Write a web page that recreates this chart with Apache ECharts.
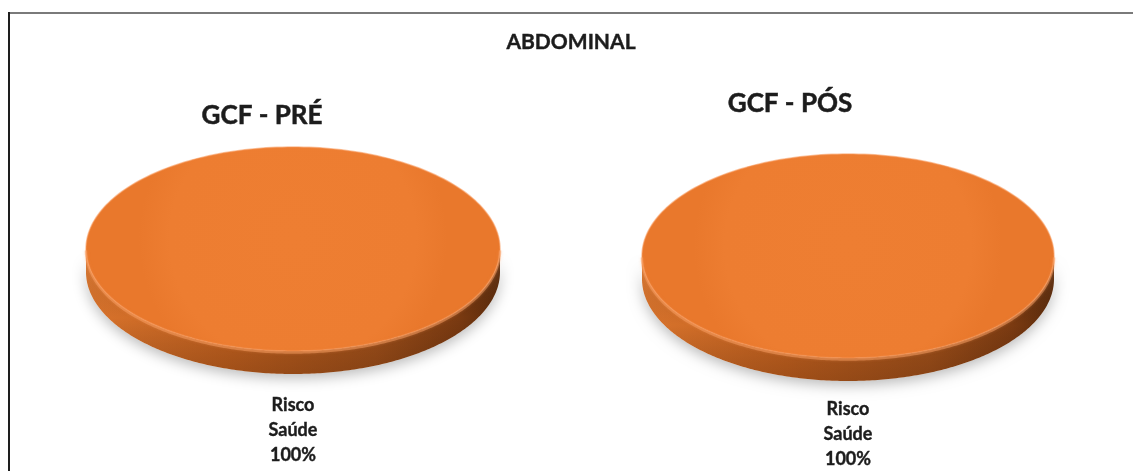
<!DOCTYPE html>
<html>
<head>
<meta charset="utf-8">
<script src="https://cdn.jsdelivr.net/npm/echarts@6/dist/echarts.min.js"></script>
<style>
  html, body { margin: 0; padding: 0; background: #ffffff; }
  #chart { width: 1133px; height: 471px; }
</style>
</head>
<body>
<div id="chart"></div>
<script>
// Categories and values for the two pies
const categories = ['Risco Saúde'];
const preValues = [100];
const posValues = [100];
const chartTitle = 'ABDOMINAL';
const pieTitles = ['GCF - PRÉ', 'GCF - PÓS'];

const FONT = 'Lato, "Open Sans", "Liberation Sans", sans-serif';
const ORANGE = '#ED7D31';
const INK = '#1c1c1c';

// Geometry of each tilted pie (center, radii, thickness) and its title
const layouts = [
  { cx: 293, cy: 249, rx: 207, ry: 102, depth: 23, titleX: 262, titleY: 116, labelY: 405 },
  { cx: 848, cy: 256, rx: 206, ry: 102, depth: 23, titleX: 790, titleY: 104, labelY: 409 }
];

function pct(v, total) {
  return Math.round(v / total * 100) + '%';
}

// Draws one slice of a tilted pie: shadow, side wall and top face, plus its label
function makeRenderer(values, L) {
  const total = values.reduce((a, b) => a + b, 0);
  return function (params, api) {
    const i = params.dataIndex;
    let before = 0;
    for (let k = 0; k < i; k++) before += values[k];
    const v = api.value(0);
    const frac = v / total;
    const a0 = -Math.PI / 2 + before / total * Math.PI * 2;
    const a1 = a0 + frac * Math.PI * 2;
    const pt = (a, dy) => [L.cx + L.rx * Math.cos(a), L.cy + L.ry * Math.sin(a) + dy];
    const N = 240;
    const full = frac >= 0.9999;

    // top face
    const top = [];
    if (!full) top.push([L.cx, L.cy]);
    for (let j = 0; j <= N; j++) top.push(pt(a0 + (a1 - a0) * j / N, 0));

    // visible front part of the side wall (angles in [0, PI])
    const s = Math.max(a0, 0), e = Math.min(a1, Math.PI);
    const side = [];
    const rim = [];
    if (e > s) {
      for (let j = 0; j <= N; j++) { const p = pt(s + (e - s) * j / N, 0); side.push(p); rim.push([p[0], p[1] + 1.5]); }
      for (let j = N; j >= 0; j--) side.push(pt(s + (e - s) * j / N, L.depth));
    }

    const children = [];
    if (side.length) {
      // soft shadow under the disc
      children.push({
        type: 'polygon',
        shape: { points: side },
        style: { fill: '#ffffff', shadowBlur: 14, shadowColor: 'rgba(0,0,0,0.28)', shadowOffsetY: 4 },
        silent: true
      });
      children.push({
        type: 'polygon',
        shape: { points: side },
        style: {
          fill: new echarts.graphic.LinearGradient(0, 0, 1, 0, [
            { offset: 0, color: '#D8732C' },
            { offset: 0.35, color: '#C2611F' },
            { offset: 0.7, color: '#A0501A' },
            { offset: 0.9, color: '#7A3A11' },
            { offset: 1, color: '#5A2A0B' }
          ])
        },
        silent: true
      });
      children.push({
        type: 'polygon',
        shape: { points: side },
        style: {
          fill: new echarts.graphic.LinearGradient(0, 0, 0, 1, [
            { offset: 0, color: 'rgba(255,190,140,0.18)' },
            { offset: 0.55, color: 'rgba(0,0,0,0)' },
            { offset: 1, color: 'rgba(40,15,0,0.22)' }
          ])
        },
        silent: true
      });
    }
    children.push({
      type: 'polygon',
      shape: { points: top },
      style: {
        fill: new echarts.graphic.RadialGradient(0.5, 0.45, 0.75, [
          { offset: 0, color: '#EE7E32' },
          { offset: 0.8, color: ORANGE },
          { offset: 1, color: '#E9782C' }
        ]),
        stroke: 'rgba(248,150,85,0.55)',
        lineWidth: 1.5
      }
    });
    if (rim.length) {
      children.push({
        type: 'polyline',
        shape: { points: rim },
        style: { stroke: 'rgba(250,160,100,0.5)', lineWidth: 2.5, fill: null, shadowBlur: 3, shadowColor: 'rgba(250,160,100,0.5)' },
        silent: true
      });
    }

    // data label: category name and percentage, below the slice
    const mid = (a0 + a1) / 2;
    const lx = full ? L.cx : L.cx + L.rx * 0.6 * Math.cos(mid);
    const ly = full ? L.labelY : L.cy + L.ry * 0.6 * Math.sin(mid);
    const lines = categories[i].split(' ').concat([pct(v, total)]);
    lines.forEach((t, k) => {
      children.push({
        type: 'text',
        x: lx,
        y: ly + k * 25,
        style: {
          text: t,
          align: 'center',
          verticalAlign: 'middle',
          font: 'bold 18px ' + FONT,
          fill: INK,
          stroke: INK,
          lineWidth: 0.4
        },
        silent: true
      });
    });

    return { type: 'group', children };
  };
}

const chart = echarts.init(document.getElementById('chart'), null, { renderer: 'canvas' });

const graphics = [
  // frame lines
  { type: 'line', shape: { x1: 8, y1: 13, x2: 1133, y2: 13 }, style: { stroke: '#7a7a7a', lineWidth: 2 } },
  { type: 'line', shape: { x1: 9, y1: 12, x2: 9, y2: 471 }, style: { stroke: '#1e1e1e', lineWidth: 2 } },
  {
    type: 'text', x: 571, y: 42,
    style: { text: chartTitle, align: 'center', verticalAlign: 'middle', font: 'bold 21px ' + FONT, fill: INK, stroke: INK, lineWidth: 0.4 }
  }
];
pieTitles.forEach((t, k) => {
  graphics.push({
    type: 'text', x: layouts[k].titleX, y: layouts[k].titleY,
    style: { text: t, align: 'center', verticalAlign: 'middle', font: 'bold 26px ' + FONT, fill: INK, stroke: INK, lineWidth: 0.5 }
  });
});

chart.setOption({
  backgroundColor: '#ffffff',
  animation: false,
  graphic: graphics,
  series: [
    {
      type: 'custom',
      name: pieTitles[0],
      coordinateSystem: 'none',
      renderItem: makeRenderer(preValues, layouts[0]),
      data: preValues.map(v => [v])
    },
    {
      type: 'custom',
      name: pieTitles[1],
      coordinateSystem: 'none',
      renderItem: makeRenderer(posValues, layouts[1]),
      data: posValues.map(v => [v])
    }
  ]
});
</script>
</body>
</html>
